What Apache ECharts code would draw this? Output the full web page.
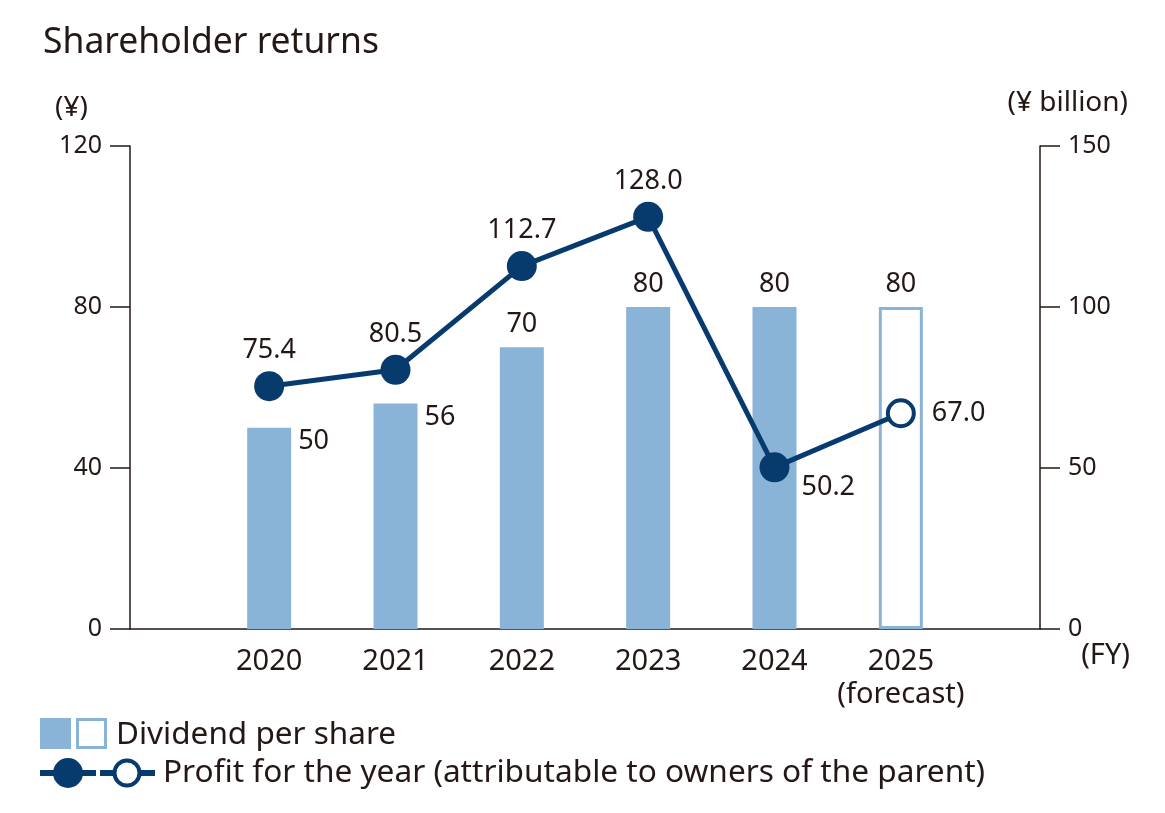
<!DOCTYPE html>
<html><head><meta charset="utf-8">
<script src="https://cdn.jsdelivr.net/npm/echarts@6/dist/echarts.min.js"></script>
<style>html,body{margin:0;padding:0;background:#fff}#c{width:1165px;height:813px}</style>
</head><body><div id="c"></div>
<script>
const categories = ['2020', '2021', '2022', '2023', '2024', '2025\n(forecast)'];
const dividendPerShare = [50, 56, 70, 80, 80, 80];
const profitForYear = [75.4, 80.5, 112.7, 128.0, 50.2, 67.0];

const TXT = '#231815', BAR = '#8AB4D7', LINE = '#073B6E', FONT = 'Noto Sans';
const chart = echarts.init(document.getElementById('c'));

const barData = dividendPerShare.map((v, i) => {
  const d = { value: v };
  if (i === 5) d.itemStyle = { color: '#ffffff', borderColor: BAR, borderWidth: 3 };
  if (i < 2) d.label = { position: ['100%', 0], offset: [7, 14], align: 'left', verticalAlign: 'middle' };
  return d;
});
const lineData = profitForYear.map((v, i) => {
  const d = { value: v };
  if (i === 5) {
    d.itemStyle = { color: '#ffffff', borderColor: LINE, borderWidth: 4 };
    d.symbolSize = 26;
    d.label = { position: 'right', distance: 16 };
  }
  if (i === 4) d.label = { position: 'right', distance: 12, offset: [0, 20] };
  return d;
});

chart.setOption({
  animation: false,
  textStyle: { fontFamily: FONT, color: TXT },
  title: { text: 'Shareholder returns', left: 38, top: 20, textStyle: { fontFamily: FONT, fontSize: 35.5, fontWeight: 'normal', color: TXT } },
  grid: [
    { left: 130, right: 125, top: 146, bottom: 184 },
    { left: 206, right: 201, top: 146, bottom: 184 }
  ],
  xAxis: [
    { type: 'category', gridIndex: 0, data: [''], axisLine: { lineStyle: { color: TXT, width: 1.5 } }, axisTick: { show: false }, axisLabel: { show: false } },
    { type: 'category', gridIndex: 1, data: categories, axisLine: { show: false }, axisTick: { show: false },
      axisLabel: { interval: 0, color: TXT, fontSize: 29, margin: 16, lineHeight: 33, fontFamily: FONT } }
  ],
  yAxis: [
    { type: 'value', gridIndex: 0, min: 0, max: 120, interval: 40, position: 'left',
      axisLine: { show: true, lineStyle: { color: TXT, width: 1.5 } },
      axisTick: { show: true, length: 20, lineStyle: { color: TXT, width: 1.5 } },
      axisLabel: { color: TXT, fontSize: 25, margin: 28, fontFamily: FONT },
      splitLine: { show: false } },
    { type: 'value', gridIndex: 0, min: 0, max: 150, interval: 50, position: 'right',
      axisLine: { show: true, lineStyle: { color: TXT, width: 1.5 } },
      axisTick: { show: true, length: 20, lineStyle: { color: TXT, width: 1.5 } },
      axisLabel: { color: TXT, fontSize: 25, margin: 28, fontFamily: FONT },
      splitLine: { show: false } },
    { type: 'value', gridIndex: 1, min: 0, max: 120, interval: 40, show: false, splitLine: { show: false } },
    { type: 'value', gridIndex: 1, min: 0, max: 150, interval: 50, show: false, splitLine: { show: false } }
  ],
  series: [
    { type: 'bar', name: 'Dividend per share', xAxisIndex: 1, yAxisIndex: 2, barWidth: 44,
      itemStyle: { color: BAR },
      label: { show: true, position: 'top', distance: 9, fontSize: 27, color: TXT, fontFamily: FONT },
      data: barData, z: 2 },
    { type: 'line', name: 'Profit for the year', xAxisIndex: 1, yAxisIndex: 3,
      symbol: 'circle', symbolSize: 30,
      lineStyle: { color: LINE, width: 5 }, itemStyle: { color: LINE },
      label: { show: true, position: 'top', distance: 7, fontSize: 27, color: TXT, fontFamily: FONT,
        formatter: p => p.value.toFixed(1) },
      data: lineData, z: 5 }
  ],
  graphic: [
    { type: 'text', left: 55, top: 94, style: { text: '(¥)', fontSize: 28, fill: TXT, fontFamily: FONT } },
    { type: 'text', right: 37, top: 89, style: { text: '(¥ billion)', fontSize: 28, fill: TXT, fontFamily: FONT } },
    { type: 'text', right: 35, top: 641, style: { text: '(FY)', fontSize: 29, fill: TXT, fontFamily: FONT } },
    { type: 'rect', shape: { x: 40, y: 718, width: 31, height: 31 }, style: { fill: BAR } },
    { type: 'rect', shape: { x: 77.5, y: 719.5, width: 28, height: 28 }, style: { fill: '#fff', stroke: BAR, lineWidth: 3 } },
    { type: 'text', x: 116, y: 735, style: { text: 'Dividend per share', fontSize: 31.5, fill: TXT, fontFamily: FONT, verticalAlign: 'middle' } },
    { type: 'line', shape: { x1: 40, y1: 773, x2: 96, y2: 773 }, style: { stroke: LINE, lineWidth: 6 } },
    { type: 'line', shape: { x1: 100, y1: 773, x2: 155, y2: 773 }, style: { stroke: LINE, lineWidth: 6 } },
    { type: 'circle', shape: { cx: 68, cy: 773, r: 15 }, style: { fill: LINE } },
    { type: 'circle', shape: { cx: 127, cy: 773, r: 12.5 }, style: { fill: '#fff', stroke: LINE, lineWidth: 4 } },
    { type: 'text', x: 163, y: 773, style: { text: 'Profit for the year (attributable to owners of the parent)', fontSize: 31.6, fill: TXT, fontFamily: FONT, verticalAlign: 'middle' } }
  ]
});
</script></body></html>
